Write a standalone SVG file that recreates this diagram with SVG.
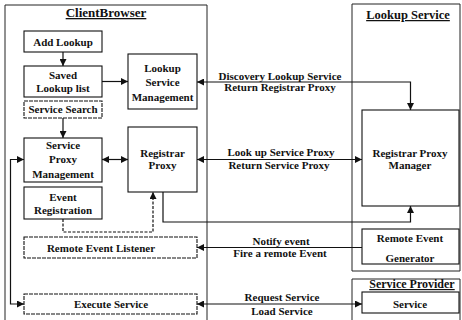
<svg xmlns="http://www.w3.org/2000/svg" width="462" height="320" viewBox="0 0 462 320">
<style>
text{font-family:"Liberation Serif","Times New Roman",serif;font-weight:bold;font-size:11px;fill:#111;text-anchor:middle}
.title{font-size:12.5px;text-decoration:underline}
.box{fill:#fff;stroke:#111;stroke-width:1.1}
.cont{fill:none;stroke:#222;stroke-width:1}
.ln{fill:none;stroke:#111;stroke-width:1.2}
.dash{stroke-dasharray:4 1}
</style>
<defs>
<marker id="ah" viewBox="0 0 8 8" refX="8" refY="4" markerWidth="7" markerHeight="7" markerUnits="userSpaceOnUse" orient="auto-start-reverse">
<path d="M0,0 L8,4 L0,8 Z" fill="#111"/>
</marker>
</defs>
<rect width="462" height="320" fill="#fff"/>

<g id="clientbrowser">
<path class="cont" d="M5,322 V5 H207 V322"/>
<text class="title" x="106" y="17" style="font-size:13px">ClientBrowser</text>
</g>
<g id="lookupservice">
<path class="cont" d="M352,4 H460 V271 H352 Z"/>
<text class="title" x="408" y="19">Lookup Service</text>
</g>
<g id="serviceprovider">
<path class="cont" d="M352,322 V279 H460 V322"/>
<text class="title" x="412" y="288" style="font-size:12px">Service Provider</text>
</g>

<g id="addlookup"><rect class="box" x="24" y="31" width="78" height="21"/><text x="63" y="46">Add Lookup</text></g>
<g id="savedlookup"><rect class="box" x="24" y="66" width="78" height="31"/><text x="63" y="79">Saved</text><text x="63" y="92">Lookup list</text></g>
<g id="servicesearch"><rect class="box dash" x="24" y="101" width="78" height="17"/><text x="63" y="113">Service Search</text></g>
<g id="serviceproxymgmt"><rect class="box" x="24" y="138" width="78" height="44"/><text x="63" y="149">Service</text><text x="63" y="163">Proxy</text><text x="63" y="178">Management</text></g>
<g id="eventregistration"><rect class="box" x="24" y="187" width="78" height="32"/><text x="63" y="201">Event</text><text x="63" y="214">Registration</text></g>
<g id="lookupservicemgmt"><rect class="box" x="128" y="54" width="69" height="55"/><text x="162.5" y="72">Lookup</text><text x="162.5" y="86">Service</text><text x="162.5" y="101">Management</text></g>
<g id="registrarproxy"><rect class="box" x="128" y="127" width="69" height="65"/><text x="162.5" y="157">Registrar</text><text x="162.5" y="169">Proxy</text></g>
<g id="remoteeventlistener"><rect class="box dash" x="24" y="237" width="173" height="21"/><text x="101" y="252">Remote Event Listener</text></g>
<g id="executeservice"><rect class="box dash" x="24" y="294" width="173" height="20"/><text x="111" y="308">Execute Service</text></g>
<g id="registrarproxymanager"><rect class="box" x="362" y="110" width="97" height="96"/><text x="410" y="157">Registrar Proxy</text><text x="410" y="169">Manager</text></g>
<g id="remoteeventgenerator"><rect class="box" x="362" y="229" width="97" height="35"/><text x="410" y="242">Remote Event</text><text x="410" y="262">Generator</text></g>
<g id="service"><rect class="box" x="362" y="292" width="97" height="21"/><text x="410" y="308">Service</text></g>

<g id="connectors">
<path class="ln" d="M63,52 V66" marker-end="url(#ah)"/>
<path class="ln" d="M102,81.5 H128" marker-end="url(#ah)"/>
<path class="ln" d="M63,118 V138" marker-end="url(#ah)"/>
<path class="ln" d="M102,159.5 H128" marker-start="url(#ah)" marker-end="url(#ah)"/>
<path class="ln" d="M197,82 H410.5 V110" marker-start="url(#ah)" marker-end="url(#ah)"/>
<path class="ln" d="M197,159.5 H362" marker-start="url(#ah)" marker-end="url(#ah)"/>
<path class="ln" d="M163,192 V222 H410.5 V206" marker-end="url(#ah)"/>
<path class="ln" d="M63,219 V232 H153 V192" stroke-dasharray="3 1.5" marker-end="url(#ah)"/>
<path class="ln" d="M362,247.5 H197" marker-end="url(#ah)"/>
<path class="ln" d="M197,304 H362" marker-start="url(#ah)" marker-end="url(#ah)"/>
<path class="ln" d="M24,159.5 H10.5 V304 H24" marker-start="url(#ah)" marker-end="url(#ah)"/>
<text x="280" y="80">Discovery Lookup Service</text>
<text x="280" y="91">Return  Registrar Proxy</text>
<text x="281" y="156">Look up Service Proxy</text>
<text x="279" y="169">Return Service Proxy</text>
<text x="281" y="245">Notify event</text>
<text x="280" y="257">Fire a remote Event</text>
<text x="282" y="301">Request Service</text>
<text x="282" y="315">Load Service</text>
</g>
</svg>
